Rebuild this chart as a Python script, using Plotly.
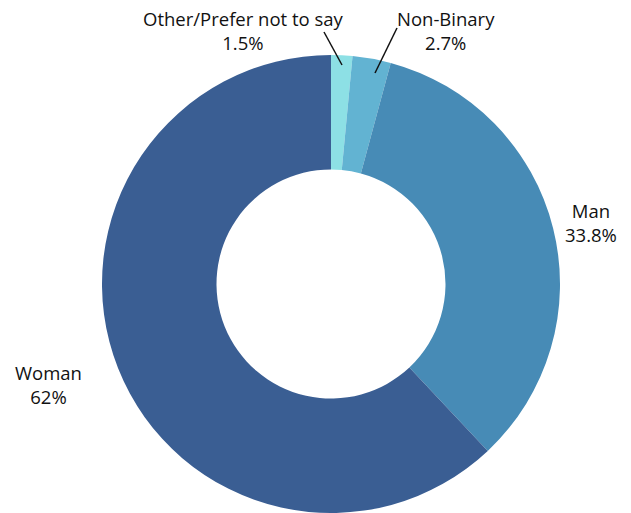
import plotly.graph_objects as go

# Gender breakdown of respondents
labels = ["Other/Prefer not to say", "Non-Binary", "Man", "Woman"]
values = [1.5, 2.7, 33.8, 62]
value_text = ["1.5%", "2.7%", "33.8%", "62%"]
colors = ["#8DE0E5", "#62B3D2", "#478BB6", "#3A5E93"]

W, H = 631, 513
FONT = "Open Sans"

fig = go.Figure(
    go.Pie(
        labels=labels,
        values=values,
        hole=0.5,
        sort=False,
        direction="clockwise",
        rotation=0,
        marker=dict(colors=colors, line=dict(width=0)),
        textinfo="none",
        hoverinfo="label+percent",
        showlegend=False,
        domain=dict(x=[101 / W, 561 / W], y=[0, 0.8928]),
    )
)

# Outside labels: (x, y) in pixels from top-left for the label block centre
label_pos = [(243, 30), (446, 30), (591, 222), (48, 384)]
annotations = []
for lab, txt, (px, py) in zip(labels, value_text, label_pos):
    annotations.append(
        dict(
            x=px / W,
            y=1 - py / H,
            xref="paper",
            yref="paper",
            text=f"{lab}<br>{txt}",
            showarrow=False,
            font=dict(family=FONT, size=18.5, color="#111111"),
            align="center",
            xanchor="center",
            yanchor="middle",
        )
    )

# Leader lines for the two narrow slices
leaders = [((324, 32), (342, 65)), ((397, 28), (375, 73))]
shapes = []
for (x0, y0), (x1, y1) in leaders:
    shapes.append(
        dict(
            type="line",
            xref="paper",
            yref="paper",
            x0=x0 / W,
            y0=1 - y0 / H,
            x1=x1 / W,
            y1=1 - y1 / H,
            line=dict(color="#111111", width=1.5),
        )
    )

fig.update_layout(
    width=W,
    height=H,
    margin=dict(l=0, r=0, t=0, b=0),
    paper_bgcolor="white",
    plot_bgcolor="white",
    annotations=annotations,
    shapes=shapes,
)

fig.write_html("out.html")
